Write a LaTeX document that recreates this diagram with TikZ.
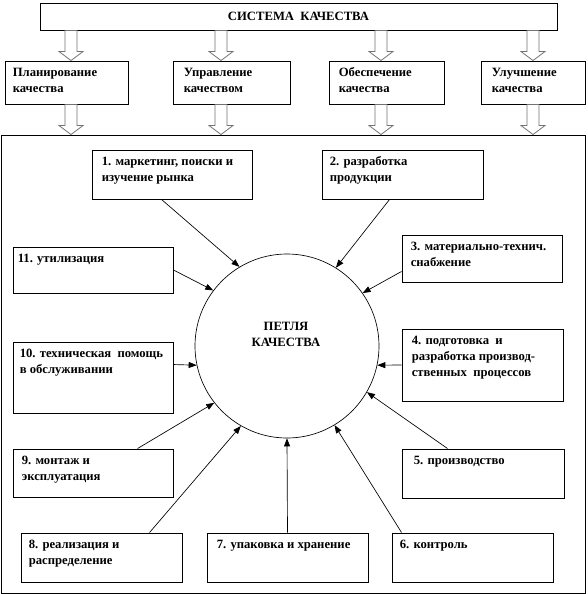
\documentclass[tikz,border=0pt]{standalone}
\usepackage{fontspec}
\setmainfont{Liberation Serif}
\usetikzlibrary{positioning,arrows.meta,calc,fit}

\tikzset{
  plainbox/.style={draw,inner sep=0pt,line width=0.7pt},
  stagetext/.style={anchor=north west,inner sep=0pt,align=left},
  hollow/.style={draw=black!55,fill=white,line width=0.6pt,line join=miter},
  flow/.style={line width=0.5pt,-{Triangle[length=6pt,width=4.5pt]}}
}
\newcommand{\hollowarrow}[2]{%
  \draw[hollow] ($(#1)+(-6,0)$) -- ($(#2)+(-6,-9)$) -- ($(#2)+(-12,-9)$) -- (#2)
    -- ($(#2)+(12,-9)$) -- ($(#2)+(6,-9)$) -- ($(#1)+(6,0)$) -- cycle;}

\begin{document}
\begin{tikzpicture}[x=0.75pt,y=-0.75pt,font=\fontsize{9.5}{12}\selectfont\bfseries]
\useasboundingbox (0,0) rectangle (588,594);
\node[plainbox,fit={(40,3) (557,30)}] (system) {};
\node at (system.center) (systemtext) {СИСТЕМА~ КАЧЕСТВА};
\node[plainbox,fit={(5,61) (128,104)}] (plan) {};
\node[plainbox,fit={(173,61) (290,104)}] (manage) {};
\node[plainbox,fit={(329,61) (444,104)}] (assure) {};
\node[plainbox,fit={(481,61) (585,104)}] (improve) {};
\node[stagetext] (plantext) at ([shift={(8,7)}]plan.north west) {Планирование\\качества};
\node[stagetext] (managetext) at ([shift={(11,7)}]manage.north west) {Управление\\качеством};
\node[stagetext] (assuretext) at ([shift={(10,7)}]assure.north west) {Обеспечение\\качества};
\node[stagetext] (improvetext) at ([shift={(11,7)}]improve.north west) {Улучшение\\качества};
\node[plainbox,fit={(1,135) (585,593)}] (frame) {};
\coordinate (a1) at (71,0); \coordinate (a2) at (221,0);
\coordinate (a3) at (381,0); \coordinate (a4) at (533,0);
\hollowarrow{system.south -| a1}{plan.north -| a1}
\hollowarrow{system.south -| a2}{manage.north -| a2}
\hollowarrow{system.south -| a3}{assure.north -| a3}
\hollowarrow{system.south -| a4}{improve.north -| a4}
\hollowarrow{plan.south -| a1}{frame.north -| a1}
\hollowarrow{manage.south -| a2}{frame.north -| a2}
\hollowarrow{assure.south -| a3}{frame.north -| a3}
\hollowarrow{improve.south -| a4}{frame.north -| a4}
% the loop and its eleven stages
\node[draw,circle,line width=0.5pt,minimum size=138pt,inner sep=0pt] (loop) at (287,346) {};
\node[align=center] (looptext) at (286,334) {ПЕТЛЯ\\КАЧЕСТВА};
\node[plainbox,fit={(92,150) (252,199)}] (st1) {};
\node[plainbox,fit={(322,150) (483,199)}] (st2) {};
\node[plainbox,fit={(402,235) (562,282)}] (st3) {};
\node[plainbox,fit={(402,329) (563,401)}] (st4) {};
\node[plainbox,fit={(402,449) (564,498)}] (st5) {};
\node[plainbox,fit={(392,533) (553,582)}] (st6) {};
\node[plainbox,fit={(207,533) (368,582)}] (st7) {};
\node[plainbox,fit={(21,533) (182,582)}] (st8) {};
\node[plainbox,fit={(13,449) (173,497)}] (st9) {};
\node[plainbox,fit={(13,342) (173,413)}] (st10) {};
\node[plainbox,fit={(13,247) (173,293)}] (st11) {};
\node[stagetext] (t1) at ([shift={(10,7)}]st1.north west) {1. маркетинг, поиски и\\изучение рынка};
\node[stagetext] (t2) at ([shift={(8,7)}]st2.north west) {2. разработка\\продукции};
\node[stagetext] (t3) at ([shift={(9,7)}]st3.north west) {3. материально-технич.\\снабжение};
\node[stagetext] (t4) at ([shift={(10,7)}]st4.north west) {4. подготовка~ и\\разработка производ-\\ственных~ процессов};
\node[stagetext] (t5) at ([shift={(12,7)}]st5.north west) {5. производство};
\node[stagetext] (t6) at ([shift={(8,7)}]st6.north west) {6. контроль};
\node[stagetext] (t7) at ([shift={(10,7)}]st7.north west) {7. упаковка и хранение};
\node[stagetext] (t8) at ([shift={(8,7)}]st8.north west) {8. реализация и\\распределение};
\node[stagetext] (t9) at ([shift={(9,7)}]st9.north west) {9. монтаж и\\эксплуатация};
\node[stagetext] (t10) at ([shift={(7,7)}]st10.north west) {10. техническая~ помощь\\в обслуживании};
\node[stagetext] (t11) at ([shift={(5,7)}]st11.north west) {11. утилизация};
\draw[flow] ([shift={(70,0)}]st1.south west) -- (loop.121);
\draw[flow] ([shift={(68,0)}]st2.south west) -- (loop.58);
\draw[flow] ([shift={(0,-11)}]st3.south west) -- (loop.35);
\draw[flow] (st4.west) -- (loop.-12);
\draw[flow] ([shift={(46,0)}]st5.north west) -- (loop.-30);
\draw[flow] ([shift={(10,0)}]st6.north west) -- (loop.-59);
\draw[flow] (st7.north) -- (loop.south);
\draw[flow] ([shift={(129,0)}]st8.north west) -- (loop.-120);
\draw[flow] ([shift={(125,0)}]st9.north west) -- (loop.-142);
\draw[flow] ([shift={(0,23)}]st10.north east) -- (loop.-168);
\draw[flow] (st11.east) -- (loop.143);
\end{tikzpicture}
\end{document}
